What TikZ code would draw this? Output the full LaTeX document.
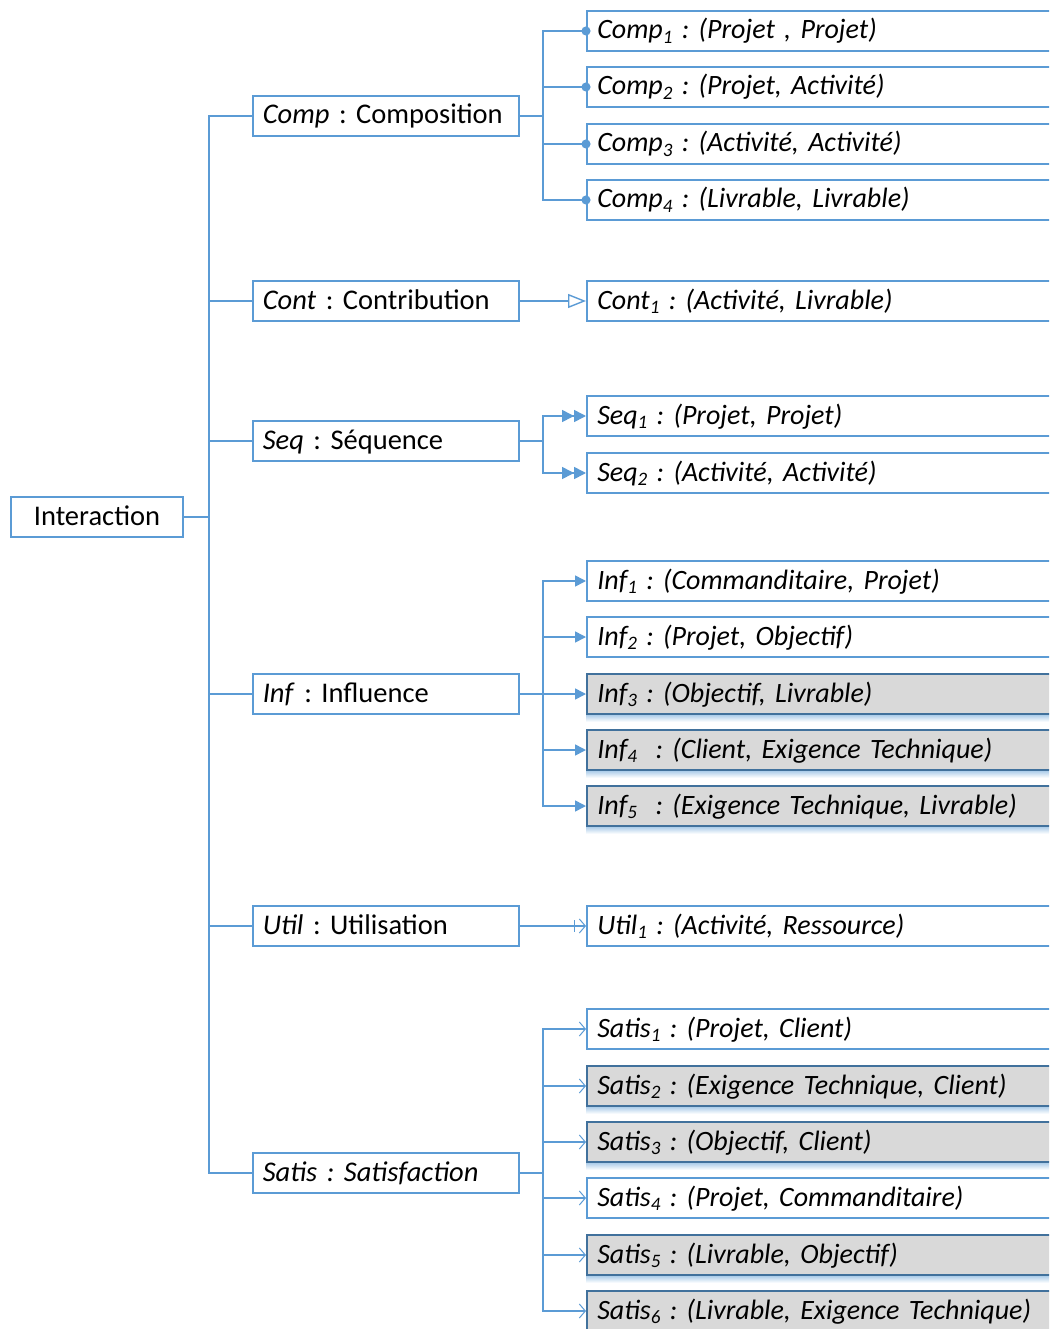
\documentclass[tikz,border=0pt]{standalone}
\usepackage{fontspec}
\setmainfont{Carlito}
\usetikzlibrary{arrows.meta}
\definecolor{lblue}{HTML}{5B9BD5}
\definecolor{dblue}{HTML}{41719C}
\definecolor{gfill}{HTML}{D9D9D9}
\newcommand\sbx[1]{\raisebox{-0.35ex}{\fontsize{19}{19}\selectfont #1}}
\frenchspacing
\begin{document}
\begin{tikzpicture}[x=1pt,y=-1pt,
 font=\fontsize{28.5}{30}\selectfont,
 conn/.style={draw=lblue,line width=1.6pt},
 box/.style={draw=lblue,line width=1.6pt,fill=white,minimum height=40pt,inner ysep=0pt,inner xsep=10pt,text height=20pt,text depth=4pt},
 lvl/.style={box,anchor=west,minimum width=266pt,text width=246pt,align=left},
 leaf/.style={box,anchor=west,minimum width=480pt,text width=459pt,align=left,inner xsep=10.5pt,font=\fontsize{28}{30}\selectfont\itshape},
 gleaf/.style={leaf,fill=gfill,draw=dblue},
 comptip/.style={conn,-{Circle[length=9pt,width=9pt]},shorten >=-4.5pt},
 conttip/.style={conn,-{Triangle[open,length=18pt,width=14pt,fill=white,line width=1.4pt]}},
 seqtip/.style={conn,-{Triangle[length=12pt,width=12pt,sep=0pt] Triangle[length=12pt,width=12pt]}},
 inftip/.style={conn,-{Triangle[length=11pt,width=11pt]}},
 utiltip/.style={conn,-{Bar[width=12pt,sep=4pt,line width=1pt] Straight Barb[length=6pt,width=14pt,line width=1pt]}},
 satistip/.style={conn,-{Straight Barb[length=6pt,width=14pt,line width=1pt]}},
]
\useasboundingbox (0,0) rectangle (1049,1329);
\clip (0,0) rectangle (1049,1329);
\fill[white] (0,0) rectangle (1049,1329);

% root
\node[box,minimum width=172pt,align=center] (inter) at (97,517) {Interaction};

% level 1
\node[lvl] (comp)  at (252,116)  {\textit{Comp} : Composition};
\node[lvl] (cont)  at (252,301)  {\textit{Cont} : Contribution};
\node[lvl] (seq)   at (252,441)  {\textit{Seq} : Séquence};
\node[lvl] (inf)   at (252,694)  {\textit{Inf} : Influence};
\node[lvl] (util)  at (252,926)  {\textit{Util} : Utilisation};
\node[lvl] (satis) at (252,1173) {\textit{Satis : Satisfaction}};

% leaves
\node[leaf] (c1) at (586,31)  {Comp\sbx{1} : (Projet , Projet)};
\node[leaf] (c2) at (586,87)  {Comp\sbx{2} : (Projet, Activité)};
\node[leaf] (c3) at (586,144) {Comp\sbx{3} : (Activité, Activité)};
\node[leaf] (c4) at (586,200) {Comp\sbx{4} : (Livrable, Livrable)};
\node[leaf] (t1) at (586,301) {Cont\sbx{1} : (Activité, Livrable)};
\node[leaf] (q1) at (586,416) {Seq\sbx{1} : (Projet, Projet)};
\node[leaf] (q2) at (586,473) {Seq\sbx{2} : (Activité, Activité)};
\node[leaf] (i1) at (586,581) {Inf\sbx{1} : (Commanditaire, Projet)};
\node[leaf] (i2) at (586,637) {Inf\sbx{2} : (Projet, Objectif)};
\node[gleaf] (i3) at (586,694) {Inf\sbx{3} : (Objectif, Livrable)};
\node[gleaf] (i4) at (586,750) {Inf\sbx{4}\ \ : (Client, Exigence Technique)};
\node[gleaf] (i5) at (586,806) {Inf\sbx{5}\ \ : (Exigence Technique, Livrable)};
\node[leaf] (u1) at (586,926) {Util\sbx{1} : (Activité, Ressource)};
\node[leaf] (s1) at (586,1029) {Satis\sbx{1} : (Projet, Client)};
\node[gleaf] (s2) at (586,1086) {Satis\sbx{2} : (Exigence Technique, Client)};
\node[gleaf] (s3) at (586,1142) {Satis\sbx{3} : (Objectif, Client)};
\node[leaf] (s4) at (586,1198) {Satis\sbx{4} : (Projet, Commanditaire)};
\node[gleaf] (s5) at (586,1255) {Satis\sbx{5} : (Livrable, Objectif)};
\node[gleaf] (s6) at (586,1311) {Satis\sbx{6} : (Livrable, Exigence Technique)};

% shadows under grey boxes
\foreach \n in {i3,i4,i5,s2,s3,s5,s6}
  \shade[top color=lblue!45,bottom color=white] ([yshift=-0.8pt]\n.south west) rectangle ([yshift=-7pt]\n.south east);

% trunk
\coordinate (trunk) at (209,517);
\draw[conn] (inter.east) -- (trunk);
\foreach \n in {comp,cont,seq,inf,util,satis}
  \draw[conn] (trunk) |- (\n.west);

% branch points
\coordinate (bcomp) at (543,116);
\coordinate (bseq) at (543,441);
\coordinate (binf) at (543,694);
\coordinate (bsatis) at (543,1173);

\draw[conn] (comp.east) -- (bcomp);
\foreach \n in {c1,c2,c3,c4} \draw[comptip] (bcomp) |- (\n.west);

\draw[conttip] (cont.east) -- (t1.west);

\draw[conn] (seq.east) -- (bseq);
\foreach \n in {q1,q2} \draw[seqtip] (bseq) |- (\n.west);

\draw[conn] (inf.east) -- (binf);
\foreach \n in {i1,i2,i3,i4,i5} \draw[inftip] (binf) |- (\n.west);

\draw[utiltip] (util.east) -- (u1.west);

\draw[conn] (satis.east) -- (bsatis);
\foreach \n in {s1,s2,s3,s4,s5,s6} \draw[satistip] (bsatis) |- (\n.west);
\end{tikzpicture}
\end{document}
